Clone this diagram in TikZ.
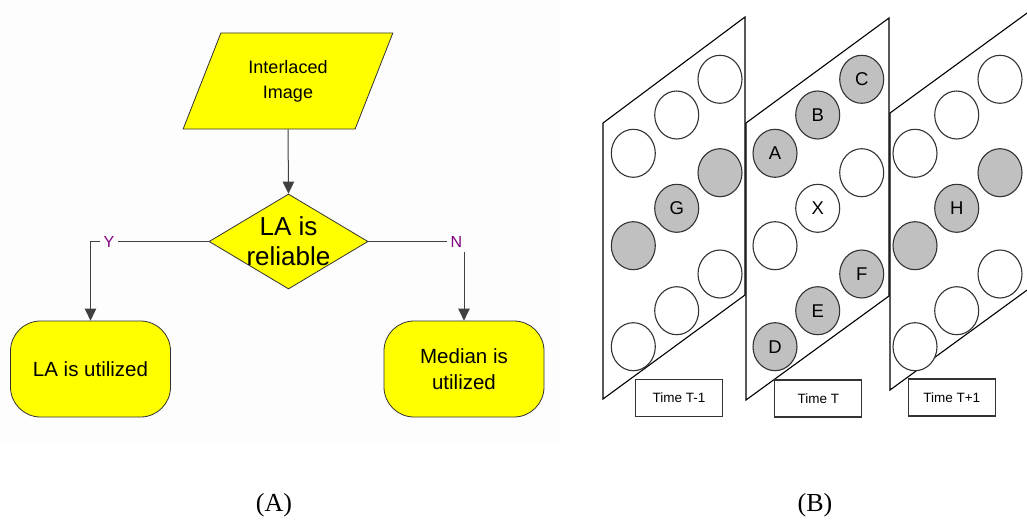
\documentclass[tikz,border=0pt]{standalone}
\usepackage{fontspec}
\setmainfont{Liberation Serif}
\newfontfamily\arialf{Liberation Sans}
\usetikzlibrary{shapes.geometric,arrows.meta}
\definecolor{fy}{HTML}{FFFF00}
\definecolor{lblp}{HTML}{800080}
\definecolor{circg}{HTML}{C0C0C0}
\definecolor{panbg}{HTML}{FDFDFD}
\begin{document}
\begin{tikzpicture}[x=1pt,y=-1pt,
  flow/.style={draw=black!80, line width=0.8pt, fill=fy, font=\arialf, align=center, inner sep=0pt},
  conn/.style={draw=black!75, line width=1pt},
  arr/.style={conn, -{Triangle[width=11.5pt,length=12pt]}},
  yn/.style={text=lblp, font=\arialf\fontsize{16}{16}\selectfont, fill=panbg, inner xsep=4pt, inner ysep=5pt},
  pan/.style={draw=black, line width=1.1pt},
  dot/.style={ellipse, draw=black!80, line width=1.1pt, minimum width=44pt, minimum height=48pt, inner sep=0pt, font=\arialf\fontsize{18.5}{18.5}\selectfont},
  gdot/.style={dot, fill=circg},
  wdot/.style={dot, fill=white},
  tbox/.style={draw=black!80, line width=1.1pt, fill=white, minimum width=87pt, minimum height=37pt, inner sep=0pt, font=\arialf\fontsize{13.5}{13.5}\selectfont},
  captxt/.style={font=\fontsize{26}{26}\selectfont, inner sep=0pt}
]
\useasboundingbox (0,0) rectangle (1027,519);
\fill[panbg] (0,0) rectangle (560,445);

% ---- (A) flowchart ----
\node[flow, trapezium, trapezium left angle=62, trapezium right angle=118, trapezium stretches=true,
      minimum width=210pt, minimum height=96pt, font=\arialf\fontsize{18}{25}\selectfont] (img) at (288,81) {Interlaced\\Image};
\node[flow, diamond, minimum width=159pt, minimum height=95pt] (rel) at (288.5,241.5) {};
\node[font=\arialf\fontsize{26}{30}\selectfont, align=center, inner sep=0pt] (reltxt) at (rel) {LA is\\reliable};
\node[flow, rounded corners=30pt, minimum width=160pt, minimum height=96pt, font=\arialf\fontsize{20.5}{26}\selectfont] (la) at (90.5,369) {LA is utilized};
\node[flow, rounded corners=30pt, minimum width=160pt, minimum height=96pt, font=\arialf\fontsize{20.5}{26}\selectfont] (med) at (464,369) {Median is\\utilized};

\draw[arr] (img.south) -- (rel.north);
\draw[arr] (rel.west) -| (la.north);
\draw[arr] (rel.east) -| (med.north);
\node[yn] (ylab) at (109,241.5) {Y};
\node[yn] (nlab) at (456.5,241.5) {N};

% ---- (B) frames ----
\draw[pan] (603,123) -- (745,17) -- (745,295) -- (603,399) -- cycle;
\draw[pan] (746,123) -- (889,18) -- (889,296) -- (746,400) -- cycle;
\begin{scope}
  \clip (0,0) rectangle (1027,519);
  \draw[pan] (1045,0) -- (890,113) -- (890,390) -- (1045,277);
\end{scope}

% panel T-1
\node[wdot] (a1) at (633.3,153.3) {};
\node[wdot] (a2) at (676.7,115) {};
\node[wdot] (a3) at (720,79.3) {};
\node[gdot] (a4) at (720,172.7) {};
\node[gdot] (a5) at (676.7,208.3) {G};
\node[gdot] (a6) at (633.3,245.7) {};
\node[wdot] (a7) at (720,274) {};
\node[wdot] (a8) at (676.7,310.7) {};
\node[wdot] (a9) at (633.3,346.7) {};
% panel T
\node[gdot] (b1) at (775,153.3) {A};
\node[gdot] (b2) at (817.7,115) {B};
\node[gdot] (b3) at (861.7,79.3) {C};
\node[wdot] (b4) at (861.7,172.7) {};
\node[wdot] (b5) at (817.7,208.3) {X};
\node[wdot] (b6) at (775,245.7) {};
\node[gdot] (b7) at (861.7,274) {F};
\node[gdot] (b8) at (817.7,310.7) {E};
\node[gdot] (b9) at (775,346.7) {D};
% panel T+1
\node[wdot] (c1) at (915,153.3) {};
\node[wdot] (c2) at (956.7,115) {};
\node[wdot] (c3) at (1000,79.3) {};
\node[gdot] (c4) at (1000,172.7) {};
\node[gdot] (c5) at (956.7,208.3) {H};
\node[gdot] (c6) at (915,245.7) {};
\node[wdot] (c7) at (1000,274) {};
\node[wdot] (c8) at (956.7,310.7) {};
\node[wdot] (c9) at (915,346.7) {};

\node[tbox] (t1) at (679,398) {Time T-1};
\node[tbox] (t2) at (818.3,398.5) {Time T};
\node[tbox] (t3) at (951.7,397.5) {Time T+1};

\node[captxt] (capA) at (274,505) {(A)};
\node[captxt] (capB) at (815,505) {(B)};
\end{tikzpicture}
\end{document}
